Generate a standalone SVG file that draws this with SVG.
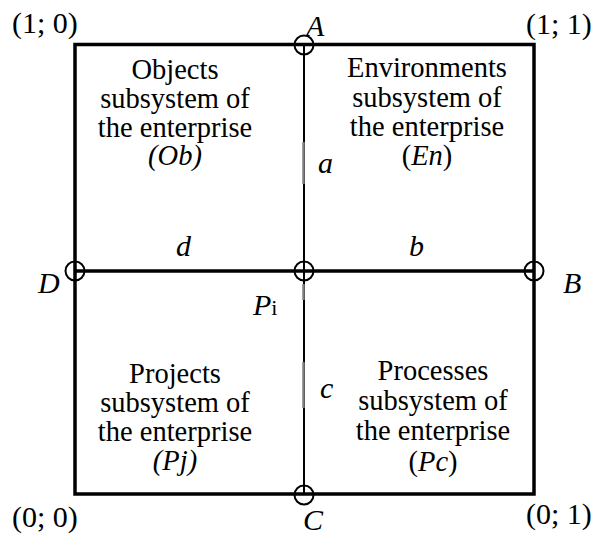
<svg xmlns="http://www.w3.org/2000/svg" width="596" height="535" viewBox="0 0 596 535" font-family="'Liberation Serif', 'Times New Roman', serif">
<style>
text{font-family:'Liberation Serif','Times New Roman',serif;fill:#000}
.q{font-size:28.5px;text-anchor:middle}
.c{font-size:30px}
.i{font-style:italic}
.frame{fill:none;stroke:#000;stroke-width:3.5}
.ln{stroke:#000;fill:none}
.pt{fill:none;stroke:#000;stroke-width:2}
.gr{stroke:#808080;stroke-width:2.5}
</style>
<rect width="596" height="535" fill="#fff"/>
<g id="connectors">
<rect class="frame" x="75" y="44.5" width="459" height="449.5"/>
<line class="ln" x1="304" y1="44.5" x2="304" y2="494" stroke-width="2"/>
<line class="ln" x1="75" y1="271" x2="534" y2="271" stroke-width="3.5"/>
<line class="gr" x1="303.5" y1="142" x2="303.5" y2="184"/>
<line class="gr" x1="303.5" y1="284" x2="303.5" y2="300"/>
<line class="gr" x1="303.5" y1="362" x2="303.5" y2="408"/>
</g>
<g id="A"><circle class="pt" cx="304" cy="45" r="9.5"/><text class="c i" x="306" y="36" font-size="28">A</text></g>
<g id="B"><circle class="pt" cx="534" cy="271" r="9.5"/><text class="c i" x="563" y="293">B</text></g>
<g id="C"><circle class="pt" cx="304" cy="495" r="9.5"/><text class="c i" x="303" y="530">C</text></g>
<g id="D"><circle class="pt" cx="75" cy="271" r="9.5"/><text class="c i" x="38" y="293">D</text></g>
<g id="Pi"><circle class="pt" cx="304" cy="271" r="9.5"/><text class="c" x="253" y="315"><tspan class="i">P</tspan><tspan font-size="22">i</tspan></text></g>
<g id="labels">
<text class="c i" x="318" y="173" font-size="34">a</text>
<text class="c i" x="176" y="256">d</text>
<text class="c i" x="409" y="256">b</text>
<text class="c i" x="320" y="398" font-size="32">c</text>
<text class="c" x="12" y="33">(1; 0)</text>
<text class="c" x="526" y="34">(1; 1)</text>
<text class="c" x="12" y="527">(0; 0)</text>
<text class="c" x="526" y="524">(0; 1)</text>
</g>
<g id="Ob">
<text class="q" x="175" y="79">Objects</text>
<text class="q" x="175" y="108">subsystem of</text>
<text class="q" x="175" y="137">the enterprise</text>
<text class="q i" x="175" y="165">(Ob)</text>
</g>
<g id="En">
<text class="q" x="427" y="77">Environments</text>
<text class="q" x="427" y="107">subsystem of</text>
<text class="q" x="427" y="136">the enterprise</text>
<text class="q" x="427" y="165">(<tspan class="i">En</tspan>)</text>
</g>
<g id="Pj">
<text class="q" x="175" y="383">Projects</text>
<text class="q" x="175" y="412">subsystem of</text>
<text class="q" x="175" y="441">the enterprise</text>
<text class="q i" x="175" y="470">(Pj)</text>
</g>
<g id="Pc">
<text class="q" x="433" y="380">Processes</text>
<text class="q" x="433" y="410">subsystem of</text>
<text class="q" x="433" y="440">the enterprise</text>
<text class="q" x="433" y="471">(<tspan class="i">Pc</tspan>)</text>
</g>
</svg>
